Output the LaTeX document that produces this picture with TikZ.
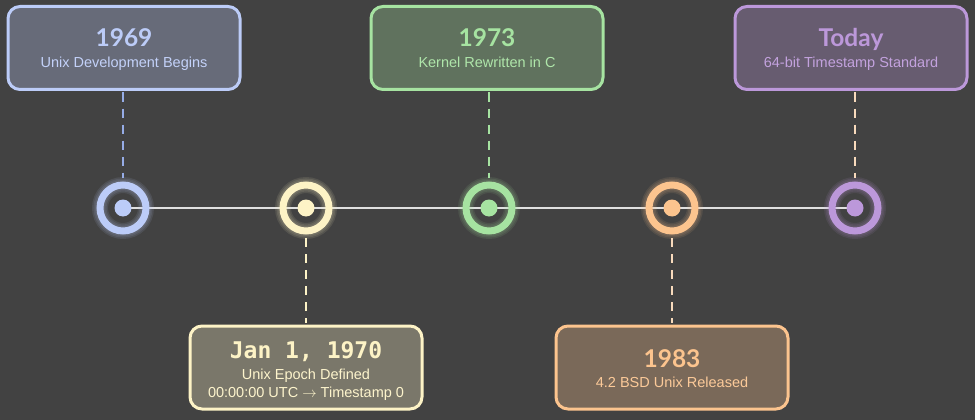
\documentclass[tikz,border=0pt]{standalone}
\usepackage{fontspec}
\usepackage{tikz}
\usetikzlibrary{positioning}
\setmainfont{Liberation Sans}
\newfontfamily\titlefont{Lato}
\newfontfamily\monofont{DejaVu Sans Mono}
\definecolor{bgdark}{RGB}{66, 66, 66}
\definecolor{lavender}{RGB}{188, 204, 248}
\definecolor{cream}{RGB}{253, 243, 198}
\definecolor{mint}{RGB}{166, 227, 161}
\definecolor{peach}{RGB}{252, 196, 142}
\definecolor{mauve}{RGB}{188, 152, 218}
\definecolor{dashblue}{RGB}{150, 172, 230}
\definecolor{dashpeach}{RGB}{248, 218, 188}
\definecolor{linegray}{RGB}{224, 224, 224}
\tikzset{
  eventbox/.style={draw=#1, fill=#1!30!bgdark, line width=3pt, rounded corners=12pt,
    minimum width=232pt, minimum height=83pt},
  ring/.style={circle, draw=#1, line width=7pt, minimum size=46pt, inner sep=0pt},
  tickdot/.style={circle, fill=#1, minimum size=17pt, inner sep=0pt},
  stem/.style={draw=#1, line width=2pt, dash pattern=on 9pt off 7pt},
  yeartext/.style={text=#1, inner sep=0pt, anchor=base,
    font=\titlefont\bfseries\fontsize{24.5}{28}\selectfont},
  subtext/.style={text=#1!90!white, inner sep=0pt, anchor=base,
    font=\fontsize{14.5}{16}\selectfont},
}

\begin{document}
\begin{tikzpicture}[x=1pt, y=-1pt]
        % 背景
        \fill[bgdark] (0,0) rectangle (975,420);
        \useasboundingbox (0,0) rectangle (975,420);

        % 时间轴
        \coordinate (p1) at (123,208);
        \coordinate (p2) at (306,208);
        \coordinate (p3) at (489,208);
        \coordinate (p4) at (672,208);
        \coordinate (p5) at (855,208);
        \draw[linegray, line width=2pt] (p1) -- (p5);

        % 光晕
        \foreach \n/\c in {1/lavender, 2/cream, 3/mint, 4/peach, 5/mauve} {
            \foreach \w in {3,6,9}
                \draw[\c, opacity=0.10, line width=7+\w] (p\n) circle (23pt);
        }

        % 圆点
        \foreach \n/\c in {1/lavender, 2/cream, 3/mint, 4/peach, 5/mauve} {
            \node[ring=\c] (r\n) at (p\n) {};
            \node[tickdot=\c] (d\n) at (p\n) {};
        }

        % 事件框
        \node[eventbox=lavender] (b1969) at (124,48) {};
        \node[eventbox=mint] (b1973) at (487,48) {};
        \node[eventbox=mauve] (btoday) at (851,48) {};
        \node[eventbox=cream] (b1970) at (306,367.5) {};
        \node[eventbox=peach] (b1983) at (672,367.5) {};

        % 虚线
        \draw[stem=dashblue, shorten <=1.5pt, shorten >=3.5pt] (b1969.south -| r1) -- (r1.north);
        \draw[stem=mint, shorten <=1.5pt, shorten >=3.5pt] (b1973.south -| r3) -- (r3.north);
        \draw[stem=dashpeach, shorten <=1.5pt, shorten >=3.5pt] (btoday.south -| r5) -- (r5.north);
        \draw[stem=cream, shorten <=3.5pt, shorten >=1.5pt] (r2.south) -- (r2 |- b1970.north);
        \draw[stem=dashpeach, shorten <=3.5pt, shorten >=1.5pt] (r4.south) -- (r4 |- b1983.north);

        % 文字
        \node[yeartext=lavender] (t1969) at ([yshift=1pt]b1969.center) {1969};
        \node[subtext=lavender] (s1969) at ([yshift=-20pt]b1969.center) {Unix Development Begins};
        \node[yeartext=mint] (t1973) at ([yshift=1pt]b1973.center) {1973};
        \node[subtext=mint] (s1973) at ([yshift=-20pt]b1973.center) {Kernel Rewritten in C};
        \node[yeartext=mauve] (ttoday) at ([yshift=1pt]btoday.center) {Today};
        \node[subtext=mauve] (stoday) at ([yshift=-20pt]btoday.center) {64-bit Timestamp Standard};
        \node[yeartext=cream, font=\monofont\bfseries\fontsize{23}{26}\selectfont] (t1970)
            at ([yshift=9.5pt]b1970.center) {Jan 1, 1970};
        \node[subtext=cream] (s1970) at ([yshift=-11.5pt]b1970.center) {Unix Epoch Defined};
        \node[subtext=cream] (u1970) at ([yshift=-29.5pt]b1970.center) {00:00:00 UTC \(\rightarrow\) Timestamp 0};
        \node[yeartext=peach] (t1983) at ([yshift=0pt]b1983.center) {1983};
        \node[subtext=peach] (s1983) at ([yshift=-20pt]b1983.center) {4.2 BSD Unix Released};
    \end{tikzpicture}
\end{document}
